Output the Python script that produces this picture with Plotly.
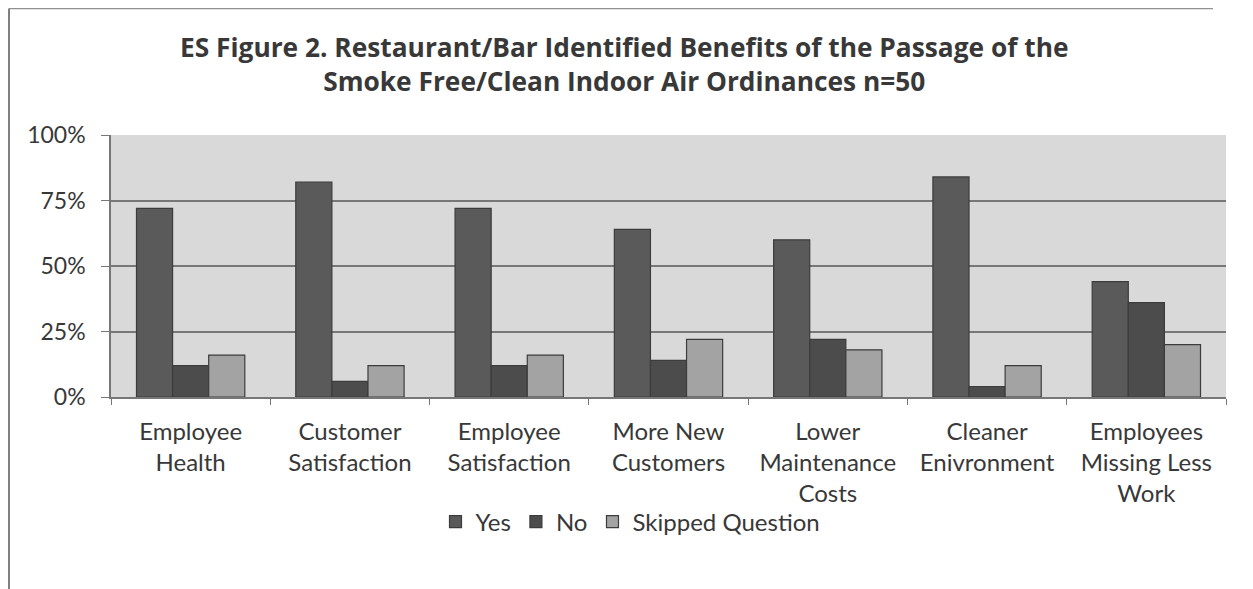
import plotly.graph_objects as go

categories = ["Employee<br>Health", "Customer<br>Satisfaction", "Employee<br>Satisfaction",
              "More New<br>Customers", "Lower<br>Maintenance<br>Costs", "Cleaner<br>Enivronment",
              "Employees<br>Missing Less<br>Work"]
yes = [72, 82, 72, 64, 60, 84, 44]
no = [12, 6, 12, 14, 22, 4, 36]
skipped = [16, 12, 16, 22, 18, 12, 20]
tick_vals = [0, 25, 50, 75, 100]
tick_text = ["0%", "25%", "50%", "75%", "100%"]

FONT = "Lato"
OFF = 8  # page body margin
W, H = 1253 - OFF, 589 - OFF
L = 111 - OFF
T = 135 - OFF
R = W - (1226 - OFF)
B = H - (397 - OFF)
pw, ph = W - L - R, H - T - B


def px(fx):  # figure x pixel -> paper x
    return (fx - L) / pw


def py(fy):  # figure y pixel (from top) -> paper y
    return (T + ph - fy) / ph


fig = go.Figure()
for name, vals, col in [("Yes", yes, "#5a5a5a"), ("No", no, "#4c4c4c"), ("Skipped Question", skipped, "#a3a3a3")]:
    fig.add_trace(go.Bar(x=categories, y=vals, name=name,
                         marker=dict(color=col, line=dict(color="#3c3c3c", width=1.2))))

fig.update_layout(
    width=W, height=H,
    margin=dict(l=L, r=R, t=T, b=B, autoexpand=False),
    paper_bgcolor="white", plot_bgcolor="#d9d9d9",
    barmode="group", bargap=0.32, bargroupgap=0,
    font=dict(family=FONT, size=24, color="#383838"),
    title=dict(text="<b>ES Figure 2. Restaurant/Bar Identified Benefits of the Passage of the<br>Smoke Free/Clean Indoor Air Ordinances n=50</b>",
               x=0.495, xanchor="center", y=1 - (57 - OFF) / H, yanchor="middle",
               font=dict(family="Open Sans", size=26.3, color="#383838")),
    legend=dict(orientation="h", x=0.5, xanchor="center", y=1 - (522 - OFF) / H, yanchor="middle",
                yref="container", xref="container", font=dict(size=24, color="#383838"),
                bgcolor="rgba(0,0,0,0)", traceorder="normal", itemwidth=30),
    showlegend=True,
)
fig.update_yaxes(range=[0, 100], tickvals=tick_vals, ticktext=tick_text, showgrid=True,
                 gridcolor="#777777", gridwidth=1.5, ticks="outside", ticklen=8, tickcolor="#777777",
                 showline=True, linecolor="#777777", linewidth=1.5, zeroline=False,
                 ticklabelstandoff=11, tickfont=dict(size=23), automargin=False)
fig.update_xaxes(tickson="boundaries", ticks="outside", ticklen=6, tickcolor="#777777",
                 showline=True, linecolor="#777777", linewidth=1.5, ticklabelstandoff=12,
                 automargin=False)

# outer chart border (left and top edges)
fig.add_shape(type="line", xref="paper", yref="paper", x0=px(1), x1=px(1),
              y0=py(H), y1=py(0.5), line=dict(color="#808080", width=2))
fig.add_shape(type="line", xref="paper", yref="paper", x0=px(1), x1=px(1213 - OFF),
              y0=py(0.5), y1=py(0.5), line=dict(color="#909090", width=1.5))

fig.write_html("out.html")
